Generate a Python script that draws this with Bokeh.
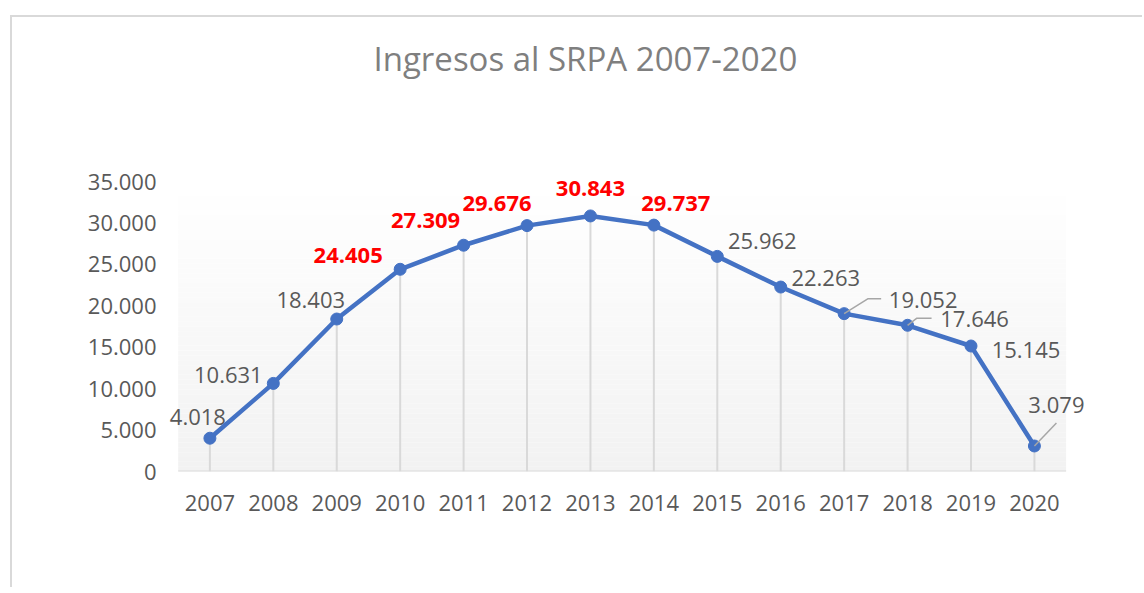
from bokeh.plotting import figure
from bokeh.models import ColumnDataSource, Range1d, FixedTicker, LabelSet, Label
from bokeh.core.properties import value
from bokeh.embed import file_html
from bokeh.resources import INLINE

# ---------------- data ----------------
years = ["2007", "2008", "2009", "2010", "2011", "2012", "2013",
         "2014", "2015", "2016", "2017", "2018", "2019", "2020"]
ingresos = [4018, 10631, 18403, 24405, 27309, 29676, 30843,
            29737, 25962, 22263, 19052, 17646, 15145, 3079]
highlight_years = ["2010", "2011", "2012", "2013", "2014"]
y_ticks = [0, 5000, 10000, 15000, 20000, 25000, 30000, 35000]
y_tick_labels = ["0", "5.000", "10.000", "15.000", "20.000",
                 "25.000", "30.000", "35.000"]
title_text = "Ingresos  al SRPA 2007-2020"

# label placement (pixel offsets from each point to its label centre)
label_dx = [-12, -45, -26, -52, -38, -30, 0, 22, 45, 45, 79, 67, 55, 22]
label_dy = [21, 8, 19, 14, 25, 22, 27, 22, 15, 9, 14, 6, -4, 41]
# leader lines (pixel offsets from the point), per year that has one
leaders = {"2017": [(0, 0), (24, 15), (37, 15)],
           "2018": [(0, 0), (9, 7), (24, 7)],
           "2020": [(0, 0), (22, 23)]}

# ---------------- layout constants ----------------
N = len(years)
Y_MAX = 35000
px_per_x = 888 / N           # category width in px
px_per_y = 290 / Y_MAX       # px per unit of value
X_LO, X_HI = -0.2, N + 0.4   # room for labels outside the category span
FRAME_W = int(round((X_HI - X_LO) * px_per_x))
FRAME_H = 451                # frame reaches up to hold the title too
Y_HI = FRAME_H / px_per_y
BORDER_TOP = 3
BORDER_BOTTOM = 116

xs = [i + 0.5 for i in range(N)]
fmt = [f"{v:,}".replace(",", ".") for v in ingresos]
FONT = "Open Sans"

p = figure(width=1130, height=BORDER_TOP + FRAME_H + BORDER_BOTTOM,
           output_backend="svg", toolbar_location=None,
           x_range=Range1d(X_LO, X_HI), y_range=Range1d(0, Y_HI),
           frame_width=FRAME_W, frame_height=FRAME_H,
           min_border_left=153, min_border_top=BORDER_TOP,
           min_border_right=1130 - 153 - FRAME_W, min_border_bottom=BORDER_BOTTOM)
p.styles = {"margin-left": "10px", "margin-top": "15px",
            "border-left": "2px solid #d9d9d9", "border-top": "2px solid #d9d9d9"}
p.background_fill_color = "white"
p.border_fill_color = "white"
p.outline_line_color = None
p.xgrid.visible = False
p.ygrid.visible = False

# chart title
p.add_layout(Label(x=208, y=413, x_units="screen", y_units="screen", text=title_text,
                   text_align="left", text_baseline="middle",
                   text_font=FONT, text_font_size="33px",
                   text_color="#7f7f7f"))

# gradient plot-area background (over the category span 0..N, 0..35000)
nb = 60
for k in range(nb):
    t = k / (nb - 1)
    c = int(round(242 + (255 - 242) * t))
    col = "#%02x%02x%02x" % (c, c, c)
    p.quad(left=0, right=N, bottom=Y_MAX * k / nb, top=Y_MAX * (k + 1) / nb,
           fill_color=col, line_color=None)

# category axis line
p.segment(x0=[0], y0=[0], x1=[N], y1=[0], line_color="#d9d9d9", line_width=2)

# drop lines
p.segment(x0=xs, y0=[0] * N, x1=xs, y1=ingresos, line_color="#d9d9d9", line_width=2)

# series
p.line(xs, ingresos, line_color="#4472C4", line_width=4.5)
p.scatter(xs, ingresos, size=12, fill_color="#4472C4", line_color="#4472C4")

# leader lines
lx, ly = [], []
for yr, pts in leaders.items():
    i = years.index(yr)
    lx.append([xs[i] + dx / px_per_x for dx, dy in pts])
    ly.append([ingresos[i] + dy / px_per_y for dx, dy in pts])
p.multi_line(lx, ly, line_color="#a6a6a6", line_width=1.5)

# data labels
def make_src(sel):
    idx = [i for i in range(N) if sel(years[i])]
    return ColumnDataSource(dict(x=[xs[i] for i in idx], y=[ingresos[i] for i in idx],
                                 t=[fmt[i] for i in idx],
                                 dx=[label_dx[i] for i in idx],
                                 dy=[label_dy[i] for i in idx]))

src_hi = make_src(lambda y: y in highlight_years)
src_lo = make_src(lambda y: y not in highlight_years)
for src, color, style in [(src_hi, "#ff0000", "bold"), (src_lo, "#595959", "normal")]:
    p.add_layout(LabelSet(x="x", y="y", text="t", source=src, x_offset="dx", y_offset="dy",
                          text_align="center", text_baseline="middle",
                          text_font=value(FONT), text_font_size="22px",
                          text_font_style=style, text_color=color))

# axes
p.xaxis.ticker = FixedTicker(ticks=xs)
p.xaxis.major_label_overrides = {x: y for x, y in zip(xs, years)}
p.xaxis.axis_line_color = None
p.xaxis.major_tick_line_color = None
p.xaxis.minor_tick_line_color = None
p.xaxis.major_tick_out = 0
p.xaxis.major_label_standoff = 23
p.xaxis.major_label_text_font = FONT
p.xaxis.major_label_text_font_size = "22px"
p.xaxis.major_label_text_color = "#595959"

p.yaxis.ticker = FixedTicker(ticks=y_ticks)
p.yaxis.major_label_overrides = {t: l for t, l in zip(y_ticks, y_tick_labels)}
p.yaxis.axis_line_color = None
p.yaxis.major_tick_line_color = None
p.yaxis.minor_tick_line_color = None
p.yaxis.major_tick_out = 0
p.yaxis.major_label_standoff = 9
p.yaxis.major_label_text_font = FONT
p.yaxis.major_label_text_font_size = "22px"
p.yaxis.major_label_text_color = "#595959"

open("out.html", "w").write(file_html(p, INLINE))
